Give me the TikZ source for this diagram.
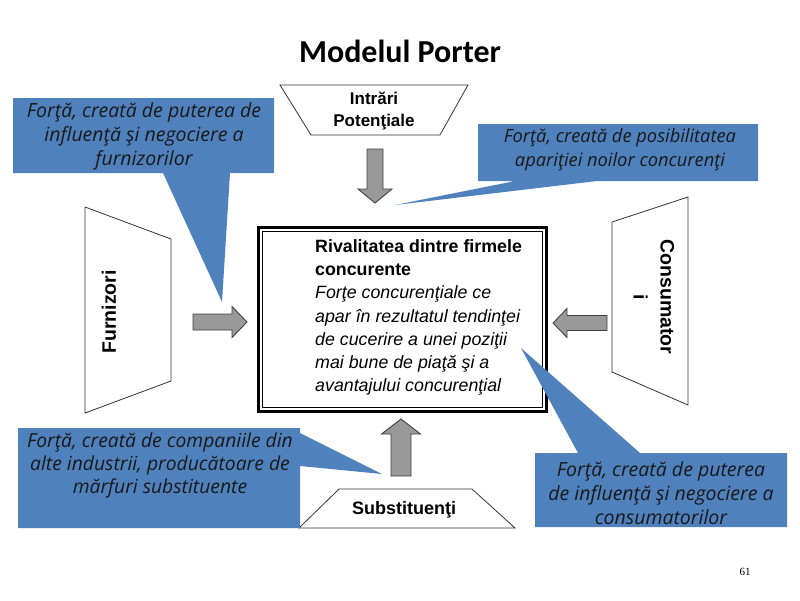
\documentclass[tikz,border=0pt]{standalone}
\usepackage{fontspec}
\setmainfont{Liberation Sans}
\newfontfamily\titlefont{Carlito}
\newfontfamily\notefont{Open Sans}
\newfontfamily\pagefont{Liberation Serif}

\definecolor{noteblue}{HTML}{4F81BD}
\definecolor{arrowgray}{HTML}{999999}

\tikzset{
  notebox/.style={fill=noteblue, draw=none},
  notetext/.style={font=\notefont\itshape\fontsize{19.5}{24}\selectfont, align=center, text=black!90, inner sep=0pt},
  trapface/.style={draw=black!80, line width=0.8pt, fill=white},
  traptext/.style={font=\bfseries\fontsize{17}{22}\selectfont, align=center, inner sep=0pt},
  arrowface/.style={draw=black!75, line width=0.9pt, fill=arrowgray},
}

% block arrow: tail, angle, length, shaft half width, head half width, head length
\newcommand\fatarrow[6]{%
  \begin{scope}[shift={#1}, rotate=#2]
    \draw[arrowface] (0,-#4) -- ({#3-#6},-#4) -- ({#3-#6},-#5) -- (#3,0)
      -- ({#3-#6},#5) -- ({#3-#6},#4) -- (0,#4) -- cycle;
  \end{scope}}

\begin{document}
\begin{tikzpicture}[x=1pt, y=-1pt]
  \useasboundingbox (0,0) rectangle (800,600);

  \node[font=\titlefont\bfseries\fontsize{32}{36}\selectfont] (title) at (400,51) {Modelul Porter};

  % the five forces
  \draw[trapface] (280,85) -- (468,85) -- (440,135) -- (311,135) -- cycle;
  \node[traptext] (entry) at (374,111) {Intrări\\Potenţiale};

  \draw[trapface] (85,207) -- (171,239) -- (171,381) -- (85,413) -- cycle;
  \node[traptext, rotate=90, font=\bfseries\fontsize{19.5}{24}\selectfont] (supply) at (109,312) {Furnizori};

  \draw[trapface] (688,197) -- (612,222) -- (612,372) -- (688,405) -- cycle;
  \node[traptext, rotate=-90, font=\bfseries\fontsize{19.5}{27}\selectfont] (buyers) at (654,297) {Consumator\\i};

  \draw[trapface] (339,489) -- (472,489) -- (515,528) -- (299,528) -- cycle;
  \node[traptext, font=\bfseries\fontsize{18}{22}\selectfont] (subst) at (404,510) {Substituenţi};

  % central box
  \draw[line width=3pt] (258.5,227.5) rectangle (546.5,411.5);
  \draw[line width=1pt] (262.5,231.5) rectangle (542.5,407.5);
  \node[anchor=north west, inner sep=0pt, align=left,
        font=\fontsize{17.8}{23.3}\selectfont] (rival) at (315,239)
    {\textbf{Rivalitatea dintre firmele}\\
     \textbf{concurente}\\
     \textit{Forţe concurenţiale ce}\\
     \textit{apar în rezultatul tendinţei}\\
     \textit{de cucerire a unei poziţii}\\
     \textit{mai bune de piaţă şi a}\\
     \textit{avantajului concurenţial}};

  % arrows towards the box
  \fatarrow{(375,149)}{-90}{54}{8}{17}{14}
  \fatarrow{(193,322)}{0}{54}{8}{15.5}{15}
  \fatarrow{(607,323)}{180}{54}{7.5}{14.5}{14}
  \fatarrow{(401,476)}{90}{57}{10}{19.5}{15}

  % callouts
  \fill[notebox] (13,98) -- (274,98) -- (274,173) -- (230,173) -- (222,302)
    -- (163,173) -- (13,173) -- cycle;
  \node[notetext] (notesupply) at (144,136)
    {Forţă, creată de puterea de\\influenţă şi negociere a\\furnizorilor};

  \fill[notebox] (478,124) -- (758,124) -- (758,181) -- (597,181) -- (395,205)
    -- (515,181) -- (478,181) -- cycle;
  \node[notetext, font=\notefont\itshape\fontsize{18.3}{24}\selectfont] (noteentry) at (620,150)
    {Forţă, creată de posibilitatea\\apariţiei noilor concurenţi};

  \fill[notebox] (18,428) -- (300,428) -- (300,433) -- (382,474) -- (300,466)
    -- (300,528) -- (18,528) -- cycle;
  \node[notetext, font=\notefont\itshape\fontsize{19.3}{23}\selectfont] (notesubst) at (160,465)
    {Forţă, creată de companiile din\\alte industrii, producătoare de\\mărfuri substituente};

  \fill[notebox] (535,453) -- (578,453) -- (521,348) -- (640,453) -- (787,453)
    -- (787,527) -- (535,527) -- cycle;
  \node[notetext] (notebuyers) at (661,493)
    {Forţă, creată de puterea\\de influenţă şi negociere a\\consumatorilor};

  \node[font=\pagefont\fontsize{11}{13}\selectfont] (page) at (745,572) {61};
\end{tikzpicture}
\end{document}
